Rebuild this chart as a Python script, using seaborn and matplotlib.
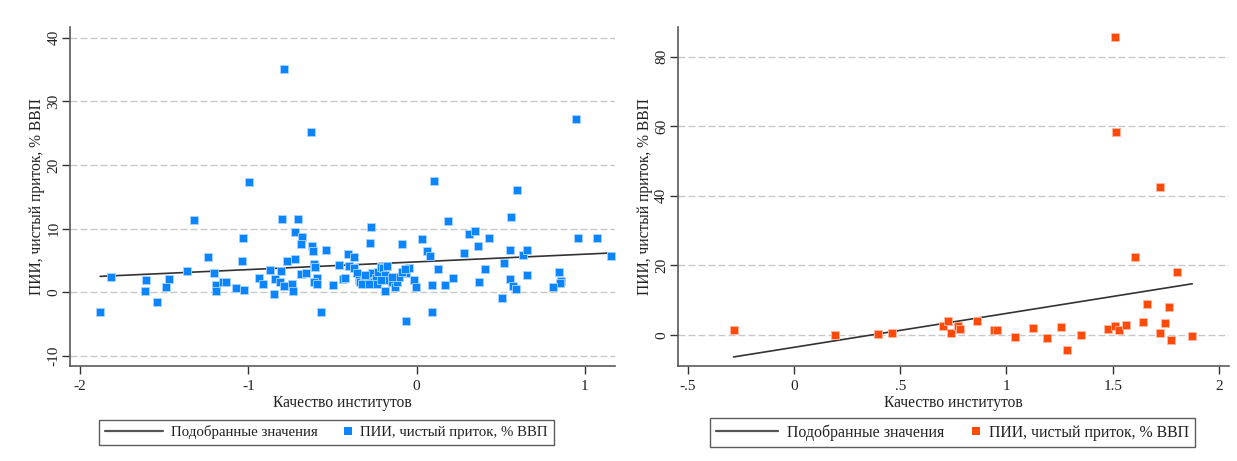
import numpy as np
import pandas as pd
import matplotlib
matplotlib.use("Agg")
import matplotlib.pyplot as plt
import seaborn as sns
from matplotlib.lines import Line2D
from matplotlib.legend_handler import HandlerBase

# ---------------- data ----------------
left_x = [-0.788, -0.625, -0.996, -1.323, -0.80, -0.702, 0.948, 0.105, 0.595, 0.189, 0.561,
          -1.881, -1.817, -1.609, -1.613, -1.544, -1.49, -1.47, -1.365, -1.24, -1.202, -1.195,
          -1.192, -1.149, -1.133, -1.073, -1.026, -1.03, -1.036,
          -0.722, -0.68, -0.686, -0.623, -0.613, -0.538, -0.77, -0.72, -0.871, -0.808, -0.934,
          -0.911, -0.847, -0.841, -0.811, -0.786, -0.74, -0.734, -0.686, -0.657, -0.611, -0.601,
          -0.591, -0.611, -0.593, -0.565, -0.496, -0.46, -0.407, -0.369, -0.438, -0.423, -0.399,
          -0.278, -0.268, -0.187, -0.085, -0.065, -0.042, -0.06, -0.016, -0.006, 0.034, 0.064,
          0.079, 0.09, 0.09,
          -0.369, -0.353, -0.343, -0.333, -0.313, -0.294, -0.274, -0.264, -0.254, -0.240, -0.228,
          -0.214, -0.2, -0.175, -0.185, -0.165, -0.145, -0.125, -0.115, -0.105, -0.085, -0.07,
          -0.323, -0.284, -0.234, -0.214, -0.304, -0.145,
          0.125, 0.171, 0.216, 0.28, 0.311, 0.345, 0.365, 0.429, 0.373, 0.409, 0.556, 0.522,
          0.506, 0.554, 0.571, 0.591, 0.633, 0.657, 0.659, 0.849, 0.861, 0.851, 0.81, 0.962,
          1.071, 1.157]
left_y = [35.05, 25.2, 17.4, 11.4, 11.6, 11.6, 27.2, 17.5, 16.0, 11.2, 11.9,
          -3.1, 2.45, 1.98, 0.15, -1.47, 0.83, 2.09, 3.4, 5.5, 2.98, 1.15,
          0.15, 1.57, 1.67, 0.63, 0.36, 8.48, 4.96,
          9.42, 8.73, 7.58, 7.32, 6.53, 6.59, 4.96, 5.18, 3.5, 3.4, 2.2,
          1.3, -0.27, 2.09, 1.57, 0.99, 1.3, 0.2, 2.87, 2.98, 4.4, 4.0,
          2.29, 1.57, 1.25, -3.04, 1.15, 4.29, 6.0, 5.6, 2.09, 2.29, 4.13,
          7.69, 10.25, 0.2, 7.53, 2.98, 3.86, -4.5, 1.93, 0.88, 8.42, 6.53,
          5.75, 1.15, -3.1,
          3.77, 2.98, 1.93, 1.57, 1.78, 1.93, 2.45, 2.98, 1.67, 2.2, 3.24,
          4.03, 3.77, 4.19, 2.72, 1.93, 1.67, 0.88, 1.57, 2.45, 3.24, 3.66,
          1.36, 1.26, 1.31, 1.93, 2.72, 2.45,
          3.6, 1.15, 2.2, 6.17, 9.2, 9.62, 7.32, 8.48, 1.67, 3.66, 6.59, 4.6,
          -0.85, 2.09, 1.04, 0.52, 5.86, 6.64, 2.72, 3.24, 1.77, 1.41, 0.88, 8.48,
          8.48, 5.7]

right_x = [-0.284, 0.193, 0.397, 0.462, 0.70, 0.726, 0.737, 0.77, 0.78, 0.861, 0.94, 0.955,
           1.041, 1.127, 1.189, 1.256, 1.287, 1.351, 1.476, 1.511, 1.511, 1.516, 1.529, 1.562,
           1.607, 1.643, 1.659, 1.72, 1.72, 1.747, 1.767, 1.773, 1.80, 1.874]
right_y = [1.35, -0.1, 0.3, 0.4, 2.6, 3.9, 0.5, 2.6, 1.8, 4.0, 1.5, 1.5,
           -0.7, 1.9, -0.8, 2.2, -4.5, 0.0, 1.6, 2.5, 85.6, 58.3, 1.5, 2.8,
           22.3, 3.7, 8.9, 0.5, 42.5, 3.3, 8.1, -1.4, 18.1, -0.3]

x_label = "Качество институтов"
y_label = "ПИИ, чистый приток, % ВВП"
fit_label = "Подобранные значения"
pt_label = "ПИИ, чистый приток, % ВВП"

left_xticks = [-2, -1, 0, 1]
left_xticklabels = ["-2", "-1", "0", "1"]
left_yticks = [-10, 0, 10, 20, 30, 40]
right_xticks = [-0.5, 0, 0.5, 1, 1.5, 2]
right_xticklabels = ["-.5", "0", ".5", "1", "1.5", "2"]
right_yticks = [0, 20, 40, 60, 80]

blue = "#0a84ff"
orange = "#ff4a0a"

# ---------------- style ----------------
sns.set_theme(style="white")
plt.rcParams["font.family"] = ["Liberation Serif", "DejaVu Serif"]
plt.rcParams["axes.unicode_minus"] = False

fig = plt.figure(figsize=(12.37, 4.61), dpi=100)
axL = fig.add_axes([70 / 1237, 1 - 365.7 / 461, 545 / 1237, 339 / 461])
axR = fig.add_axes([677.7 / 1237, 1 - 365.7 / 461, 551.3 / 1237, 338.4 / 461])

dfL = pd.DataFrame({"x": left_x, "y": left_y})
dfR = pd.DataFrame({"x": right_x, "y": right_y})


class HandlerRightMarker(HandlerBase):
    def create_artists(self, legend, orig_handle, xdescent, ydescent, width, height,
                       fontsize, trans):
        m = Line2D([-xdescent + width - 3.0], [-ydescent + height / 2.0], ls="none",
                   marker="s", color=orig_handle.get_color(),
                   markersize=orig_handle.get_markersize(), markeredgewidth=0)
        m.set_transform(trans)
        return [m]


def draw(ax, df, color, xticks, xticklabels, yticks, ylim, xlim, legfs, legx, edge):
    for yt in yticks:
        ax.axhline(yt, color="#c8c8c8", lw=1.0, ls=(0, (5, 2.2)), zorder=0)
    sns.regplot(data=df, x="x", y="y", ax=ax, scatter=False, ci=None, truncate=True,
                line_kws=dict(color="#333333", lw=1.2, zorder=2))
    sns.scatterplot(data=df, x="x", y="y", ax=ax, marker="s", s=38, color=color,
                    edgecolor=edge, linewidth=0.6, zorder=3, legend=False)
    ax.set_xlim(*xlim)
    ax.set_ylim(*ylim)
    ax.set_xticks(xticks)
    ax.set_xticklabels(xticklabels)
    ax.set_yticks(yticks)
    ax.set_yticklabels([str(v) for v in yticks], rotation=90, va="center")
    for s in ["top", "right"]:
        ax.spines[s].set_visible(False)
    for s in ["left", "bottom"]:
        ax.spines[s].set_color("#5a5a5a")
        ax.spines[s].set_linewidth(1.2)
    ax.tick_params(axis="both", direction="out", length=6, width=1.0, color="#333333",
                   labelsize=11, labelcolor="#222222", bottom=True, left=True)
    ax.tick_params(axis="y", pad=1)
    ax.tick_params(axis="x", pad=4)
    ax.set_xlabel(x_label, fontsize=11.2, color="#222222", labelpad=2)
    ax.set_ylabel(y_label, fontsize=11.2, color="#222222", labelpad=1.5)
    h_line = Line2D([], [], color="#555555", lw=1.6)
    h_pt = Line2D([], [], color=color, marker="s", ls="none", markersize=5.8)
    leg = ax.legend([h_line, h_pt], [fit_label, pt_label], loc="center",
                    bbox_to_anchor=(legx, -0.197), ncol=2,
                    frameon=True, fancybox=False, edgecolor="#333333", fontsize=legfs,
                    handlelength=3.9, handletextpad=0.56, columnspacing=-1.6,
                    borderpad=0.4, borderaxespad=0.0,
                    handler_map={h_pt: HandlerRightMarker()})
    leg.get_frame().set_linewidth(1.0)
    for t in leg.get_texts():
        t.set_color("#222222")


draw(axL, dfL, blue, left_xticks, left_xticklabels, left_yticks, (-11.5, 41.7),
     (-2.06, 1.18), 10.7, 0.470, "#a8d4ff")
draw(axR, dfR, orange, right_xticks, right_xticklabels, right_yticks, (-8.9, 88.5),
     (-0.547, 2.047), 11.4, 0.4985, "#ffb8a0")

fig.savefig("out.png", dpi=100)
